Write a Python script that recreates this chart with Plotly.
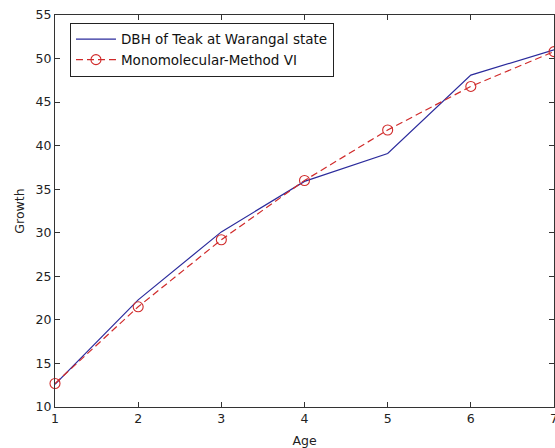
import plotly.graph_objects as go

age = [1, 2, 3, 4, 5, 6, 7]
dbh_observed = [12.6, 22.3, 30.1, 35.9, 39.1, 48.1, 51.0]
monomolecular = [12.7, 21.5, 29.2, 36.0, 41.8, 46.8, 50.8]
x_ticks = [1, 2, 3, 4, 5, 6, 7]
y_ticks = [10, 15, 20, 25, 30, 35, 40, 45, 50, 55]

FONT = "DejaVu Sans, Liberation Sans, Arial"

fig = go.Figure()
fig.add_trace(go.Scatter(
    x=age, y=dbh_observed, mode="lines",
    name="DBH of Teak at Warangal state",
    line=dict(color="#2b2b9c", width=1.2),
    cliponaxis=False,
))
fig.add_trace(go.Scatter(
    x=age, y=monomolecular, mode="lines+markers",
    name="Monomolecular-Method VI",
    line=dict(color="#d02a2a", width=1.2, dash="7px,4px"),
    marker=dict(symbol="circle-open", size=10, color="#d02a2a", line=dict(width=1.1)),
    cliponaxis=False,
))

axis_common = dict(
    showline=True, linecolor="#333333", linewidth=1, mirror="ticks",
    ticks="inside", ticklen=5, tickcolor="#333333", showgrid=False, zeroline=False,
    automargin=False, ticklabeloverflow="allow",
    tickfont=dict(family=FONT, size=12.5, color="#222222"),
)

fig.update_layout(
    width=555, height=448,
    margin=dict(l=55, r=1, t=15, b=41),
    paper_bgcolor="white", plot_bgcolor="white",
    showlegend=True,
    legend=dict(
        x=0.03, y=0.98, xanchor="left", yanchor="top",
        bordercolor="#222222", borderwidth=1, bgcolor="white",
        font=dict(family=FONT, size=13.5, color="#111111"),
        tracegroupgap=0, itemwidth=40,
    ),
    xaxis=dict(range=[1, 7], tickvals=x_ticks,
               title=dict(text="Age", standoff=12,
                          font=dict(family=FONT, size=12.5, color="#222222")),
               **axis_common),
    yaxis=dict(range=[10, 55], tickvals=y_ticks,
               title=dict(text="Growth", standoff=8,
                          font=dict(family=FONT, size=12.5, color="#222222")),
               **axis_common),
)

fig.write_html(
    "out.html",
    config={"displayModeBar": False},
    post_script="document.body.style.margin='0';document.body.style.overflow='hidden';",
)
